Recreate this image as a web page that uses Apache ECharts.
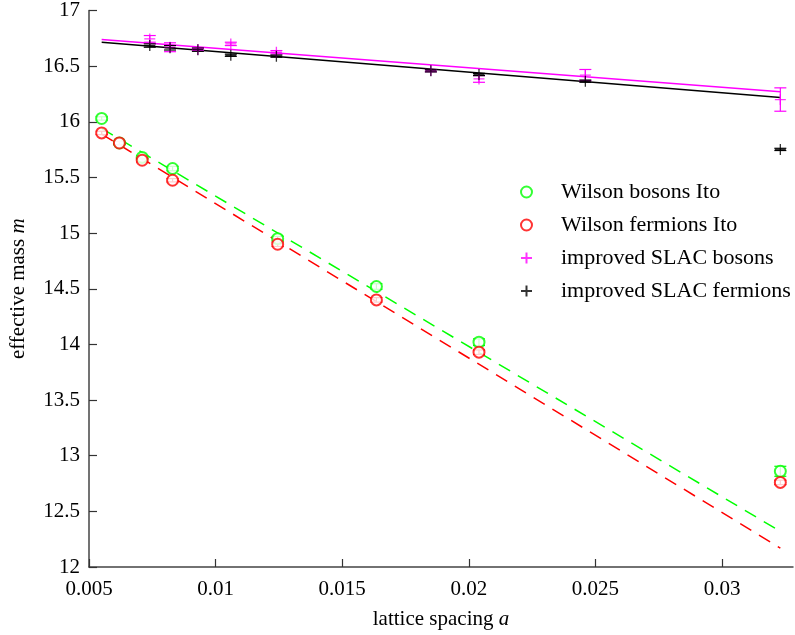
<!DOCTYPE html>
<html>
<head>
<meta charset="utf-8">
<script src="https://cdn.jsdelivr.net/npm/echarts@6/dist/echarts.min.js"></script>
<style>html,body{margin:0;padding:0;background:#fff}#c{width:795px;height:635px}</style>
</head>
<body>
<div id="c"></div>
<script>
// Wilson data
const aWilson = [0.0055, 0.0062, 0.0071, 0.0083, 0.01245, 0.01635, 0.0204, 0.0323];
const mWilsonBos = [16.03, 15.81, 15.68, 15.58, 14.95, 14.52, 14.02, 12.86];
const eWilsonBos = [0.015, 0.015, 0.015, 0.02, 0.02, 0.025, 0.03, 0.045];
const mWilsonFer = [15.90, 15.81, 15.655, 15.475, 14.90, 14.40, 13.93, 12.76];
const eWilsonFer = [0.015, 0.015, 0.015, 0.015, 0.02, 0.02, 0.02, 0.02];
// SLAC data
const aSlac = [0.0074, 0.0082, 0.0093, 0.0106, 0.0124, 0.0185, 0.0204, 0.0246, 0.0323];
const mSlacBos = [16.745, 16.67, 16.65, 16.70, 16.625, 16.46, 16.385, 16.42, 16.20];
const eSlacBos = [0.03, 0.04, 0.01, 0.015, 0.015, 0.01, 0.03, 0.05, 0.105];
const mSlacFer = [16.685, 16.665, 16.648, 16.598, 16.59, 16.458, 16.425, 16.365, 15.752];
const eSlacFer = [0.015, 0.02, 0.015, 0.01, 0.01, 0.01, 0.01, 0.01, 0.01];
// fit lines (endpoints)
const aFit = [0.0055, 0.0323];
const fitWilsonBos = [15.94, 12.32];
const fitWilsonFer = [15.89, 12.17];
const fitSlacBos = [16.74, 16.27];
const fitSlacFer = [16.715, 16.218];
// labels
const names = ['Wilson bosons Ito', 'Wilson fermions Ito', 'improved SLAC bosons', 'improved SLAC fermions'];
const xTicks = ['0.005', '0.01', '0.015', '0.02', '0.025', '0.03'];

const GREEN = '#00ff00', RED = '#ff0000', MAG = '#ff00ff', BLK = '#000000';
const FONT = 'Liberation Serif';
const PLUS = 'path://M0,6L12,6M6,0L6,12';

function pts(a, m) { return a.map((x, i) => [x, m[i]]); }
function errs(a, m, e) { return a.map((x, i) => [x, m[i], e[i]]); }

function errSeries(name, a, m, e, color) {
  return {
    type: 'custom', name: name, data: errs(a, m, e), clip: false, z: 3,
    renderItem: function (params, api) {
      const x = api.value(0), y = api.value(1), d = api.value(2);
      const t = api.coord([x, y + d]), b = api.coord([x, y - d]);
      const w = 6;
      const st = { stroke: color, lineWidth: 1.2 };
      return { type: 'group', children: [
        { type: 'line', shape: { x1: t[0], y1: t[1], x2: b[0], y2: b[1] }, style: st },
        { type: 'line', shape: { x1: t[0] - w, y1: t[1], x2: t[0] + w, y2: t[1] }, style: st },
        { type: 'line', shape: { x1: b[0] - w, y1: b[1], x2: b[0] + w, y2: b[1] }, style: st }
      ]};
    }
  };
}

function fitSeries(name, m, color, dashed) {
  return {
    type: 'line', name: name, data: pts(aFit, m), symbol: 'none', z: 2,
    lineStyle: { color: color, width: 1.5, type: dashed ? [13, 9] : 'solid' },
    silent: true
  };
}

const chart = echarts.init(document.getElementById('c'), null, { renderer: 'canvas' });
chart.setOption({
  animation: false,
  backgroundColor: '#fff',
  textStyle: { fontFamily: FONT },
  grid: { left: 88, right: 2, top: 9, bottom: 64 },
  xAxis: {
    type: 'value', min: 0.005, max: 0.0328, interval: 0.005,
    name: 'lattice spacing {i|a}', nameLocation: 'middle', nameGap: 42,
    nameTextStyle: { fontFamily: FONT, fontSize: 21, color: '#000',
      rich: { i: { fontFamily: FONT, fontStyle: 'italic', fontSize: 21, color: '#000' } } },
    axisLine: { show: true, lineStyle: { color: '#444', width: 1.5 } },
    axisTick: { show: true, inside: true, length: 8, lineStyle: { color: '#333', width: 1.2 } },
    axisLabel: { fontFamily: FONT, fontSize: 21, color: '#000', margin: 12, showMaxLabel: false,
      formatter: function (v) { const i = Math.round((v - 0.005) / 0.005); return xTicks[i] !== undefined ? xTicks[i] : ''; } },
    splitLine: { show: false }
  },
  yAxis: {
    type: 'value', min: 12, max: 17, interval: 0.5,
    name: 'effective mass {i|m}', nameLocation: 'middle', nameGap: 60, nameRotate: 90,
    nameTextStyle: { fontFamily: FONT, fontSize: 21, color: '#000',
      rich: { i: { fontFamily: FONT, fontStyle: 'italic', fontSize: 21, color: '#000' } } },
    axisLine: { show: true, lineStyle: { color: '#444', width: 1.5 } },
    axisTick: { show: true, inside: true, length: 8, lineStyle: { color: '#333', width: 1.2 } },
    axisLabel: { fontFamily: FONT, fontSize: 21, color: '#000', margin: 9 },
    splitLine: { show: false }
  },
  legend: {
    data: names, orient: 'vertical', left: 515, top: 176,
    itemWidth: 11, itemHeight: 11, itemGap: 11,
    textStyle: { fontFamily: FONT, fontSize: 22, color: '#000', padding: [0, 0, 0, 24], lineHeight: 22 }
  },
  series: [
    fitSeries('fitWB', fitWilsonBos, GREEN, true),
    fitSeries('fitWF', fitWilsonFer, RED, true),
    fitSeries('fitSB', fitSlacBos, MAG, false),
    fitSeries('fitSF', fitSlacFer, BLK, false),
    errSeries('errWB', aWilson, mWilsonBos, eWilsonBos, GREEN),
    errSeries('errWF', aWilson, mWilsonFer, eWilsonFer, RED),
    errSeries('errSB', aSlac, mSlacBos, eSlacBos, MAG),
    errSeries('errSF', aSlac, mSlacFer, eSlacFer, BLK),
    { type: 'scatter', name: names[0], data: pts(aWilson, mWilsonBos), symbol: 'emptyCircle', symbolSize: 11, z: 4,
      itemStyle: { color: GREEN, borderColor: GREEN, borderWidth: 1.2 } },
    { type: 'scatter', name: names[1], data: pts(aWilson, mWilsonFer), symbol: 'emptyCircle', symbolSize: 11, z: 4,
      itemStyle: { color: RED, borderColor: RED, borderWidth: 1.2 } },
    { type: 'scatter', name: names[2], data: pts(aSlac, mSlacBos), symbol: PLUS, symbolSize: 11, z: 4,
      itemStyle: { color: MAG, borderColor: MAG, borderWidth: 1.3 } },
    { type: 'scatter', name: names[3], data: pts(aSlac, mSlacFer), symbol: PLUS, symbolSize: 11, z: 5,
      itemStyle: { color: BLK, borderColor: BLK, borderWidth: 1.3 } }
  ]
});
</script>
</body>
</html>
